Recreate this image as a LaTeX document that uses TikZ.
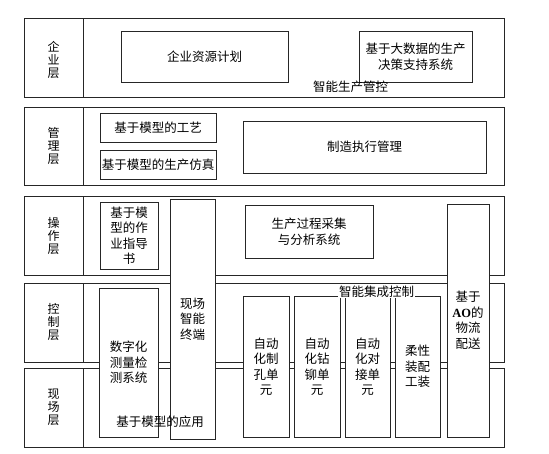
\documentclass[tikz,border=0pt]{standalone}
\usepackage{fontspec}
\setmainfont{Noto Sans CJK SC}
\newfontfamily\latinserif{Liberation Serif}

\tikzset{
  layer/.style={draw=black!85, line width=1pt},
  blk/.style={draw=black!85, line width=1pt, fill=white, align=center,
    inner sep=1pt, font=\fontsize{12.5}{15.5}\selectfont},
  lyrname/.style={align=center, inner sep=0pt, font=\fontsize{12}{13}\selectfont},
  tag/.style={inner sep=1pt, font=\fontsize{12.5}{15}\selectfont},
}

\begin{document}
\begin{tikzpicture}[x=1pt,y=-1pt]
\useasboundingbox (0,0) rectangle (549,453);

% Layers
\draw[layer] (24,18) rectangle (504,97);
\draw[layer] (83,18) -- (83,97);
\draw[layer] (24,107) rectangle (504,185);
\draw[layer] (83,107) -- (83,185);
\draw[layer] (24,196) rectangle (504,275);
\draw[layer] (83,196) -- (83,275);
\draw[layer] (24,283) rectangle (504,362);
\draw[layer] (83,283) -- (83,362);
\draw[layer] (24,368) rectangle (504,447);
\draw[layer] (83,368) -- (83,447);

% Layer names
\node[lyrname] (ent) at (53.5,60) {企\\业\\层};
\node[lyrname] (mgt) at (53.5,146) {管\\理\\层};
\node[lyrname] (opr) at (53.5,236) {操\\作\\层};
\node[lyrname] (ctl) at (53.5,322) {控\\制\\层};
\node[lyrname] (fld) at (53.5,407) {现\\场\\层};

% Enterprise layer
\node[blk, minimum width=167pt, minimum height=51pt] (erp) at (204.5,56.5) {企业资源计划};
\node[blk, minimum width=113pt, minimum height=51pt] (bigdata) at (415.5,56.5) {基于大数据的生产\\决策支持系统};

% Management layer
\node[blk, minimum width=116pt, minimum height=29pt] (craft) at (158,127.5) {基于模型的工艺};
\node[blk, minimum width=116pt, minimum height=29pt] (sim) at (158,164.5) {基于模型的生产仿真};
\node[blk, minimum width=243pt, minimum height=52pt] (mes) at (364.5,147) {制造执行管理};

% Operation layer
\node[blk, minimum width=58pt, minimum height=67pt] (guide) at (129,235.5) {基于模\\型的作\\业指导\\书};
\node[blk, minimum width=128pt, minimum height=53pt] (collect) at (309,231.5) {生产过程采集\\与分析系统};

% Boxes across layers
\node[blk, minimum width=45pt, minimum height=240pt] (term) at (192.5,319) {现场\\智能\\终端};
\node[blk, minimum width=42pt, minimum height=233pt] (ao) at (468,320.5) {基于\\{\latinserif\bfseries AO}的\\物流\\配送};
\node[blk, minimum width=59pt, minimum height=149pt] (measure) at (128.5,362.5) {数字化\\测量检\\测系统};

% Control units
\node[blk, minimum width=46pt, minimum height=141pt] (hole) at (266,366.5) {自动\\化制\\孔单\\元};
\node[blk, minimum width=46pt, minimum height=141pt] (rivet) at (317,366.5) {自动\\化钻\\铆单\\元};
\node[blk, minimum width=45pt, minimum height=141pt] (dock) at (367.5,366.5) {自动\\化对\\接单\\元};
\node[blk, minimum width=45pt, minimum height=141pt] (fixture) at (417.5,366.5) {柔性\\装配\\工装};

% Labels
\node[tag] (prodctl) at (350.5,87) {智能生产管控};
\node[tag, fill=white, inner ysep=0.5pt] (intctl) at (376.5,292) {智能集成控制};
\node[tag] (modelapp) at (160,422) {基于模型的应用};

\end{tikzpicture}
\end{document}
